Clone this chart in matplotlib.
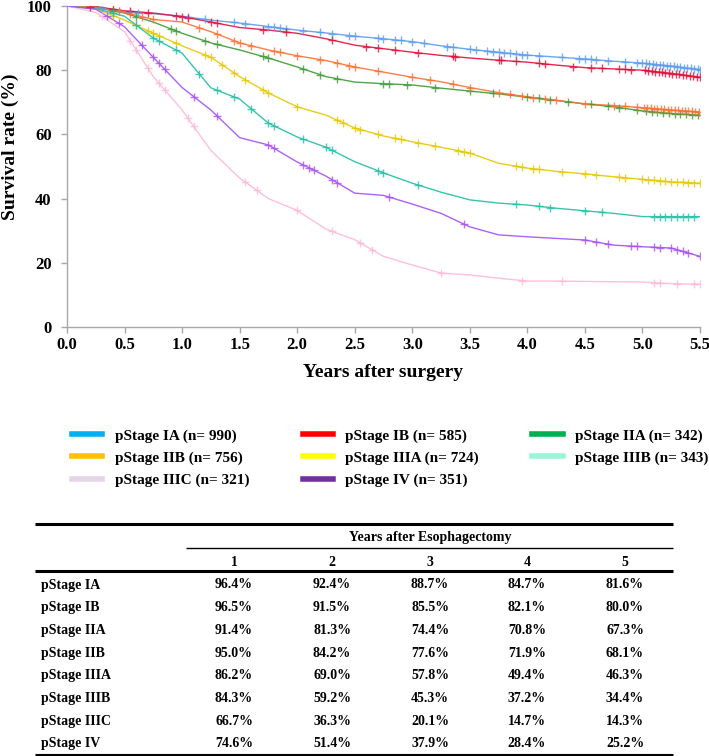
import matplotlib
matplotlib.use("Agg")
import matplotlib.pyplot as plt
from matplotlib.lines import Line2D
import numpy as np

plt.rcParams['font.family'] = ['Liberation Serif', 'DejaVu Serif']
plt.rcParams['font.weight'] = 'bold'

# survival curves (years, %)
years = [0.0, 0.25, 0.5, 0.75, 1.0, 1.25, 1.5, 1.75, 2.0, 2.25, 2.5, 2.75,
         3.0, 3.25, 3.5, 3.75, 4.0, 4.25, 4.5, 4.75, 5.0, 5.25, 5.5]

surv_ia = [100, 99.8, 98.2, 97.6, 96.8, 95.6, 94.7, 93.6, 92.5, 91.6, 90.6, 89.8,
           88.9, 87.6, 86.5, 85.6, 84.7, 84.1, 83.5, 82.8, 82.2, 81.3, 80.2]
surv_ib = [100, 99.8, 98.5, 97.8, 96.7, 95.0, 93.3, 92.5, 91.5, 89.8, 87.8, 86.7,
           85.6, 84.6, 83.8, 83.1, 82.5, 81.6, 80.8, 80.4, 80.0, 79.0, 77.8]
surv_iia = [100, 99.5, 97.8, 95.0, 91.5, 88.5, 86.3, 83.8, 81.0, 78.0, 76.3, 75.8,
            75.4, 74.4, 73.5, 72.6, 71.6, 70.6, 69.5, 68.6, 67.3, 66.5, 66.0]
surv_iib = [100, 99.6, 98.0, 95.8, 95.0, 92.0, 88.5, 86.3, 84.5, 83.0, 81.0, 79.4,
            77.8, 76.4, 74.6, 73.0, 71.7, 70.6, 69.5, 69.0, 68.3, 67.6, 67.0]
surv_iiia = [100, 99.2, 95.6, 91.5, 87.6, 84.0, 78.0, 72.9, 68.6, 66.0, 62.0, 59.5,
             57.7, 56.0, 54.2, 51.0, 49.5, 48.5, 47.7, 46.8, 46.0, 45.2, 44.8]
surv_iiib = [100, 99.2, 96.8, 90.0, 85.3, 74.5, 71.0, 63.5, 59.2, 56.0, 51.5, 48.0,
             44.8, 42.0, 39.6, 38.6, 38.0, 37.0, 36.2, 35.4, 34.4, 34.4, 34.4]
surv_iiic = [100, 98.0, 92.0, 78.0, 67.6, 55.0, 46.4, 40.0, 36.3, 30.5, 27.2, 22.0,
             19.3, 16.8, 16.2, 15.2, 14.3, 14.3, 14.2, 14.1, 14.0, 13.5, 13.3]
surv_iv = [100, 99.0, 93.5, 84.0, 74.6, 67.6, 59.0, 56.7, 51.4, 47.0, 41.7, 41.0,
           38.3, 35.4, 31.2, 28.7, 28.1, 27.6, 27.1, 25.5, 25.0, 24.6, 22.0]

# censoring times (years)
cens_ia = [0.3, 0.45, 0.55, 0.62, 1.05, 1.2, 1.45, 1.55, 1.75, 1.8, 1.85, 1.9, 2.05, 2.2, 2.3,
           2.45, 2.5, 2.7, 2.75, 2.85, 2.9, 3.0, 3.1, 3.3, 3.35, 3.5, 3.55, 3.65, 3.7, 3.75,
           3.8, 3.85, 3.9, 3.95, 4.0, 4.1, 4.3, 4.45, 4.5, 4.55, 4.6, 4.7, 4.85, 4.95, 5.0,
           5.03, 5.06, 5.09, 5.12, 5.15, 5.18, 5.21, 5.24, 5.27, 5.3, 5.33, 5.36, 5.39, 5.42,
           5.45, 5.48, 5.5]
cens_ib = [0.2, 0.4, 0.55, 0.7, 0.95, 1.0, 1.05, 1.25, 1.3, 1.7, 1.9, 2.3, 2.6, 2.7, 2.85,
           3.05, 3.35, 3.37, 3.75, 3.77, 3.9, 4.1, 4.15, 4.4, 4.55, 4.65, 4.8, 4.85, 4.9,
           5.02, 5.05, 5.08, 5.11, 5.14, 5.17, 5.2, 5.23, 5.26, 5.29, 5.32, 5.35, 5.38,
           5.41, 5.44, 5.47, 5.5]
cens_iia = [0.4, 0.6, 0.9, 0.95, 1.2, 1.3, 1.7, 1.75, 2.05, 2.2, 2.35, 2.75, 2.8, 2.95, 3.2,
            3.5, 3.7, 4.0, 4.1, 4.2, 4.35, 4.55, 4.7, 4.8, 4.95, 5.03, 5.08, 5.13, 5.18,
            5.23, 5.28, 5.33, 5.38, 5.43, 5.48]
cens_iib = [0.45, 0.55, 0.65, 0.75, 1.15, 1.3, 1.45, 1.5, 1.6, 1.8, 1.85, 2.0, 2.2, 2.35,
            2.45, 2.5, 2.7, 3.0, 3.15, 3.35, 3.5, 3.75, 3.85, 3.95, 4.05, 4.15, 4.25, 4.5,
            4.75, 4.85, 4.95, 5.01, 5.04, 5.07, 5.1, 5.13, 5.16, 5.19, 5.22, 5.25, 5.28,
            5.31, 5.34, 5.37, 5.4, 5.43, 5.46, 5.49]
cens_iiia = [0.4, 0.6, 0.7, 0.75, 0.8, 0.95, 1.2, 1.25, 1.35, 1.45, 1.55, 1.7, 1.75, 2.0,
             2.35, 2.4, 2.5, 2.55, 2.7, 2.85, 2.9, 3.05, 3.2, 3.4, 3.45, 3.5, 3.9, 3.95, 4.05,
             4.1, 4.3, 4.5, 4.6, 4.8, 4.85, 5.0, 5.05, 5.1, 5.15, 5.2, 5.25, 5.3, 5.35, 5.4,
             5.45, 5.5]
cens_iiib = [0.4, 0.6, 0.75, 0.8, 0.95, 1.15, 1.3, 1.45, 1.6, 1.75, 1.8, 2.05, 2.25, 2.3,
             2.7, 2.75, 3.05, 3.9, 4.1, 4.2, 4.5, 4.65, 5.1, 5.15, 5.2, 5.25, 5.3, 5.35,
             5.4, 5.45]
cens_iiic = [0.3, 0.55, 0.6, 0.7, 0.8, 0.85, 1.05, 1.1, 1.55, 1.65, 2.0, 2.3, 2.55, 2.65,
             3.25, 3.95, 4.3, 5.1, 5.15, 5.3, 5.45, 5.5]
cens_iv = [0.35, 0.45, 0.65, 0.75, 0.8, 0.85, 1.1, 1.3, 1.75, 1.8, 2.05, 2.1, 2.15, 2.3,
           2.35, 2.8, 3.45, 4.5, 4.6, 4.7, 4.9, 4.95, 5.1, 5.15, 5.25, 5.3, 5.35, 5.4, 5.5]

stages = ['pStage IA', 'pStage IB', 'pStage IIA', 'pStage IIB',
          'pStage IIIA', 'pStage IIIB', 'pStage IIIC', 'pStage IV']
n_pat = [990, 585, 342, 756, 724, 343, 321, 351]
curves = [surv_ia, surv_ib, surv_iia, surv_iib, surv_iiia, surv_iiib, surv_iiic, surv_iv]
censors = [cens_ia, cens_ib, cens_iia, cens_iib, cens_iiia, cens_iiib, cens_iiic, cens_iv]
line_colors = ['#5b9cf0', '#e0103c', '#3d9a35', '#ff7034', '#e6c800', '#1fbfa6',
               '#ffb8d8', '#a650f5']
legend_colors = ['#00b0f0', '#ff0000', '#00b050', '#ffc000', '#ffff00', '#99f5d8',
                 '#e4d6e6', '#7030a0']

# table: years after esophagectomy
tab_years = ['1', '2', '3', '4', '5']
tab_vals = [
    [96.4, 92.4, 88.7, 84.7, 81.6],
    [96.5, 91.5, 85.5, 82.1, 80.0],
    [91.4, 81.3, 74.4, 70.8, 67.3],
    [95.0, 84.2, 77.6, 71.9, 68.1],
    [86.2, 69.0, 57.8, 49.4, 46.3],
    [84.3, 59.2, 45.3, 37.2, 34.4],
    [66.7, 36.3, 20.1, 14.7, 14.3],
    [74.6, 51.4, 37.9, 28.4, 25.2],
]

W, H = 709, 756
fig = plt.figure(figsize=(W / 100, H / 100), dpi=100)
ax = fig.add_axes([67 / W, 1 - 327 / H, (700 - 67) / W, (327 - 6) / H])

for surv, cens, col in zip(curves, censors, line_colors):
    ax.plot(years, surv, color=col, lw=1.0, alpha=0.9, zorder=3)
    cy = np.interp(cens, years, surv)
    ax.plot(cens, cy, ls='none', marker='+', ms=6, mew=1.0, color=col, alpha=0.8, zorder=4)

ax.set_xlim(0, 5.5)
ax.set_ylim(0, 100)
ax.set_xticks(np.arange(0, 5.51, 0.5))
ax.set_xticklabels([f'{v:.1f}' for v in np.arange(0, 5.51, 0.5)])
ax.set_yticks([0, 20, 40, 60, 80, 100])
for s in ['top', 'right']:
    ax.spines[s].set_visible(False)
for s in ['left', 'bottom']:
    ax.spines[s].set_color('#a8a8a8')
    ax.spines[s].set_linewidth(1.0)
ax.tick_params(colors='#a8a8a8', length=4, width=1, labelcolor='black', labelsize=12, pad=3)
ax.tick_params(axis='y', pad=7)
for lab in ax.get_xticklabels() + ax.get_yticklabels():
    lab.set_fontweight('bold')
ax.set_xlabel('Years after surgery', fontsize=14, fontweight='bold')
ax.xaxis.set_label_coords(0.5, -0.115)
ax.set_ylabel('Survival rate (%)', fontsize=14, fontweight='bold')
ax.yaxis.set_label_coords(-0.076, 0.56)

# legend, row by row: order handles column-major for ncol=3
order = [0, 3, 6, 1, 4, 7, 2, 5]
handles = [Line2D([], [], color=legend_colors[i], lw=4) for i in order]
labels = [f'{stages[i]} (n= {n_pat[i]})' for i in order]
fig.legend(handles, labels, loc='upper left', bbox_to_anchor=(58 / W, 1 - 415 / H),
           ncol=3, frameon=False, fontsize=11, handlelength=2.0, handletextpad=0.8,
           columnspacing=3.5, labelspacing=0.55, prop={'weight': 'bold', 'size': 11})

# table drawn in pixel coordinates
tx = fig.add_axes([0, 0, 1, 1])
tx.set_xlim(0, W)
tx.set_ylim(H, 0)
tx.axis('off')
col_x = [234, 332, 430, 527, 625]
row_y0, row_dy = 585, 22.7
tx.hlines(524, 35, 673, color='black', lw=2.2)
tx.text(430, 537, 'Years after Esophagectomy', ha='center', va='center', fontsize=10,
        fontweight='bold')
tx.hlines(548, 186, 673, color='black', lw=1.0)
for x, yr in zip(col_x, tab_years):
    tx.text(x, 562, yr, ha='center', va='center', fontsize=10, fontweight='bold')
tx.hlines(571, 35, 673, color='black', lw=2.2)
for i, (st, vals) in enumerate(zip(stages, tab_vals)):
    y = row_y0 + i * row_dy
    tx.text(41, y, st, ha='left', va='center', fontsize=10, fontweight='bold')
    for x, v in zip(col_x, vals):
        tx.text(x, y, f'{v:.1f}%', ha='center', va='center', fontsize=10, fontweight='bold')
tx.hlines(754.5, 35, 673, color='black', lw=2.2)

fig.savefig('out.png', dpi=100)
